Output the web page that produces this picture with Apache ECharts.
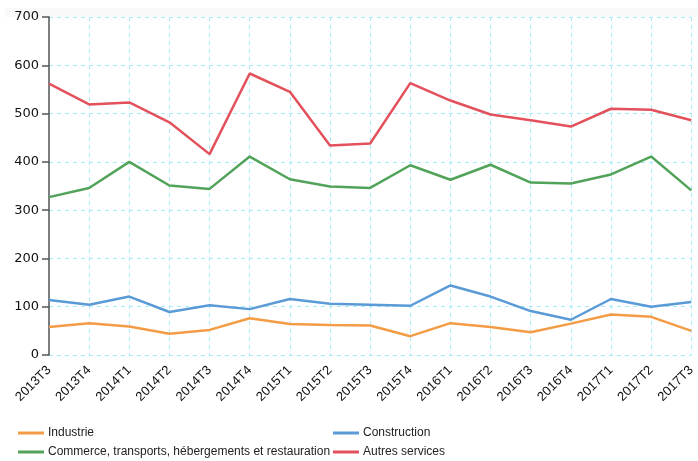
<!DOCTYPE html>
<html>
<head>
<meta charset="utf-8">
<script src="https://cdn.jsdelivr.net/npm/echarts@6/dist/echarts.min.js"></script>
<style>
  html, body { margin: 0; padding: 0; background: #fff; }
  #chart { width: 698px; height: 461px; }
</style>
</head>
<body>
<div id="chart"></div>
<script>
const quarters = [
  "2013T3", "2013T4", "2014T1", "2014T2", "2014T3", "2014T4",
  "2015T1", "2015T2", "2015T3", "2015T4", "2016T1", "2016T2",
  "2016T3", "2016T4", "2017T1", "2017T2", "2017T3",
];

const industrie = [58, 66, 59, 44, 52, 76, 64, 62, 61, 39, 66, 58, 47, 65, 84, 79, 50];
const construction = [114, 104, 121, 89, 103, 95, 116, 106, 104, 102, 144, 121, 91, 73, 116, 100, 110];
const commerce = [327, 346, 400, 351, 344, 411, 364, 349, 346, 393, 363, 394, 357, 355, 374, 411, 341];
const autres = [562, 519, 523, 482, 416, 583, 545, 434, 438, 563, 527, 498, 486, 473, 510, 508, 486];

const colors = {
  industrie: "#f39c45",
  construction: "#5a9ad6",
  commerce: "#52a35a",
  autres: "#e3515c",
};

const chart = echarts.init(document.querySelector("#chart"));

const lineSeries = (name, data, color) => {
  return {
    name,
    type: "line",
    data,
    symbol: "none",
    color,
    lineStyle: { width: 2.5, color },
    animation: false,
  };
};

const legendBox = (left, data) => {
  return {
    left,
    top: 427,
    data,
    orient: "vertical",
    padding: 0,
    icon: "rect",
    itemWidth: 26,
    itemHeight: 3,
    itemGap: 7,
    itemStyle: { borderWidth: 0 },
    textStyle: { fontFamily: "Liberation Sans", fontSize: 12, color: "#222", padding: [0, 0, 0, -1] },
  };
};

chart.setOption({
  backgroundColor: "#fff",
  graphic: [
    {
      type: "rect",
      shape: { x: 5, y: 8, width: 693, height: 9 },
      style: { fill: "#f9f9f9" },
      silent: true,
      z: -1,
    },
  ],
  grid: {
    left: 49,
    right: 1,
    top: 17,
    bottom: 106,
  },
  legend: [
    legendBox(18, ["Industrie", "Commerce, transports, hébergements et restauration"]),
    legendBox(333, ["Construction", "Autres services"]),
  ],
  xAxis: {
    type: "category",
    data: quarters,
    boundaryGap: false,
    axisLine: { show: false },
    axisTick: { show: false },
    axisLabel: {
      rotate: 45,
      margin: 13,
      fontFamily: "Liberation Sans",
      fontSize: 13,
      color: "#111",
    },
    splitLine: {
      show: true,
      lineStyle: { color: "#a8ecfb", type: [4, 4], width: 1 },
    },
  },
  yAxis: {
    type: "value",
    min: 0,
    max: 700,
    interval: 100,
    axisLine: { show: true, lineStyle: { color: "#555", width: 1.5 } },
    axisTick: { show: true, length: 7, lineStyle: { color: "#555", width: 1.5 } },
    axisLabel: {
      margin: 10,
      fontFamily: "DejaVu Sans",
      fontSize: 13,
      color: "#111",
    },
    splitLine: {
      show: true,
      lineStyle: { color: "#a8ecfb", type: [4, 4], width: 1 },
    },
  },
  series: [
    lineSeries("Industrie", industrie, colors.industrie),
    lineSeries("Construction", construction, colors.construction),
    lineSeries("Commerce, transports, hébergements et restauration", commerce, colors.commerce),
    lineSeries("Autres services", autres, colors.autres),
  ],
});
</script>
</body>
</html>
